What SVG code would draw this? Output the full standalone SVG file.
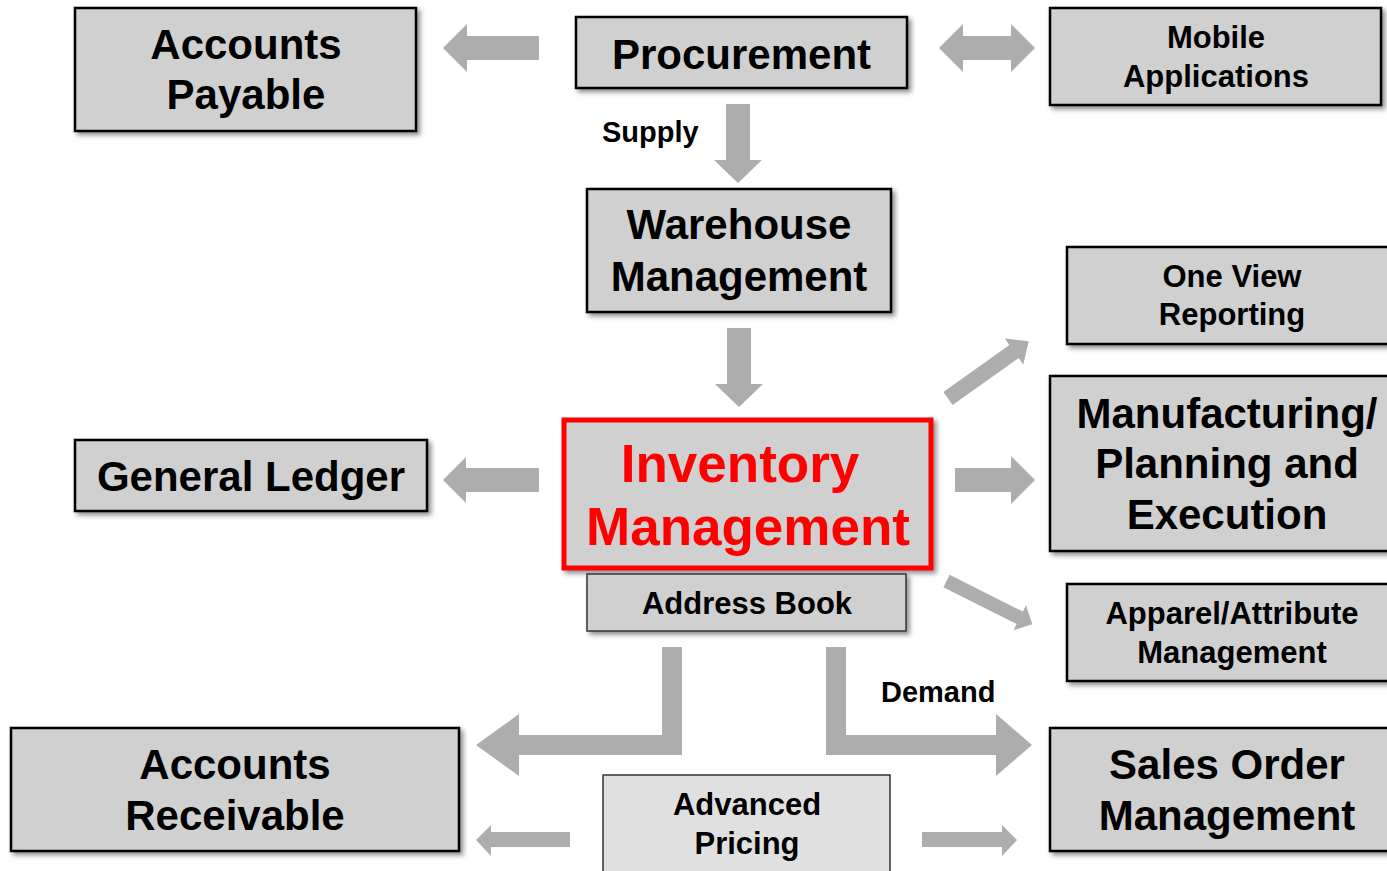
<svg xmlns="http://www.w3.org/2000/svg" width="1387" height="871" viewBox="0 0 1387 871">
<defs>
<filter id="sh" x="-10%" y="-10%" width="130%" height="140%">
<feDropShadow dx="3" dy="3" stdDeviation="2.5" flood-color="#000" flood-opacity="0.45"/>
</filter>
<style>
.box{fill:#d0d0d0;stroke:#000;stroke-width:2.5;filter:url(#sh)}
.thin{fill:#d0d0d0;stroke:#333;stroke-width:1.5;filter:url(#sh)}
.light{fill:#e0e0e0;stroke:#333;stroke-width:1.5}
.red{fill:#d0d0d0;stroke:#ff0000;stroke-width:5;filter:url(#sh)}
text{font-family:"Liberation Sans",Arial,sans-serif;font-weight:bold;text-anchor:middle;fill:#000}
.big{font-size:42px}
.sm{font-size:31px}
.lbl{font-size:29px;text-anchor:start}
.inv{font-size:53px;fill:#ff0000}
.arr{fill:#adadad}
</style>
</defs>
<rect width="1387" height="871" fill="#fff"/>
<g id="connectors">
<polygon class="arr" points="443,48 467,24 467,36 539,36 539,60 467,60 467,72"/>
<polygon class="arr" points="939,48 963,24 963,36 1011,36 1011,24 1035,48 1011,72 1011,60 963,60 963,72"/>
<polygon class="arr" points="726,104 750,104 750,160 762,160 738,183 714,160 726,160"/>
<polygon class="arr" points="727,328 751,328 751,384 763,384 739,407 715,384 727,384"/>
<polygon class="arr" points="443,480 466,457 466,468 539,468 539,492 466,492 466,503"/>
<polygon class="arr" points="955,468 1011,468 1011,456 1035,480 1011,504 1011,492 955,492"/>
<polygon class="arr" transform="translate(948,398.5) rotate(-35.4)" points="0,-8 81,-8 81,-16 99,0 81,16 81,8 0,8"/>
<polygon class="arr" transform="translate(946.5,581) rotate(26.7)" points="0,-7 82,-7 82,-14 96,0 82,14 82,7 0,7"/>
<polygon class="arr" points="682,647 682,755 519,755 519,776 476,745 519,714 519,735 662,735 662,647"/>
<polygon class="arr" points="826,647 846,647 846,735 996,735 996,714 1032,745 996,776 996,755 826,755"/>
<polygon class="arr" points="476,840 491,825 491,832 570,832 570,847 491,847 491,856"/>
<polygon class="arr" points="922,832 1002,832 1002,825 1017,840 1002,856 1002,847 922,847"/>
<text class="lbl" x="602" y="142">Supply</text>
<text class="lbl" x="881" y="702">Demand</text>
</g>
<g id="accounts-payable">
<rect class="box" x="75" y="8" width="341" height="123"/>
<text class="big" x="246" y="59">Accounts</text>
<text class="big" x="246" y="109">Payable</text>
</g>
<g id="procurement">
<rect class="box" x="576" y="17" width="331" height="71"/>
<text class="big" x="741.5" y="69">Procurement</text>
</g>
<g id="mobile-applications">
<rect class="box" x="1050" y="8" width="331" height="97"/>
<text class="sm" x="1216" y="48">Mobile</text>
<text class="sm" x="1216" y="87">Applications</text>
</g>
<g id="warehouse-management">
<rect class="box" x="587" y="189" width="304" height="123"/>
<text class="big" x="739" y="239">Warehouse</text>
<text class="big" x="739" y="291">Management</text>
</g>
<g id="one-view-reporting">
<rect class="box" x="1067" y="247" width="340" height="97"/>
<text class="sm" x="1232" y="287">One View</text>
<text class="sm" x="1232" y="325">Reporting</text>
</g>
<g id="manufacturing">
<rect class="box" x="1050" y="376" width="357" height="175"/>
<text class="big" x="1227" y="428">Manufacturing/</text>
<text class="big" x="1227" y="478">Planning and</text>
<text class="big" x="1227" y="529">Execution</text>
</g>
<g id="general-ledger">
<rect class="box" x="75" y="440" width="352" height="71"/>
<text class="big" x="251" y="491">General Ledger</text>
</g>
<g id="inventory-management">
<rect class="red" x="564" y="420" width="367" height="148"/>
<text class="inv" x="740" y="482">Inventory</text>
<text class="inv" x="748" y="545">Management</text>
</g>
<g id="address-book">
<rect class="thin" x="587" y="574" width="319" height="57"/>
<text class="sm" x="747" y="614">Address Book</text>
</g>
<g id="apparel-attribute">
<rect class="box" x="1067" y="584" width="340" height="97"/>
<text class="sm" x="1232" y="624">Apparel/Attribute</text>
<text class="sm" x="1232" y="663">Management</text>
</g>
<g id="accounts-receivable">
<rect class="box" x="11" y="728" width="448" height="123"/>
<text class="big" x="235" y="779">Accounts</text>
<text class="big" x="235" y="830">Receivable</text>
</g>
<g id="advanced-pricing">
<rect class="light" x="603" y="775" width="287" height="110"/>
<text class="sm" x="747" y="815">Advanced</text>
<text class="sm" x="747" y="854">Pricing</text>
</g>
<g id="sales-order-management">
<rect class="box" x="1050" y="728" width="357" height="123"/>
<text class="big" x="1227" y="779">Sales Order</text>
<text class="big" x="1227" y="830">Management</text>
</g>
</svg>
